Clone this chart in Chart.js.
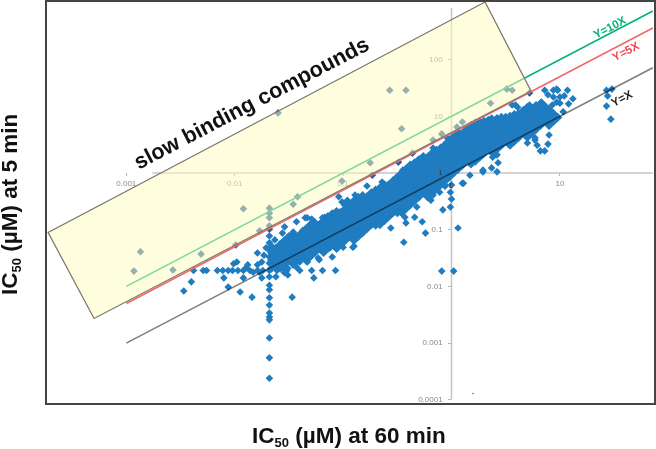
<!DOCTYPE html>
<html>
<head>
<meta charset="utf-8">
<title>IC50 at 5 min vs 60 min</title>
<script src="https://cdn.jsdelivr.net/npm/chart.js@4/dist/chart.umd.min.js"></script>
<style>
  html, body { margin: 0; background: #fff; }
  canvas { display: block; }
</style>
</head>
<body>
<canvas id="grafico" width="656" height="449"></canvas>
<script>
const ticksX = [0.001, 0.01, 0.1, 1, 10];
const ticksY = [100, 10, 1, 0.1, 0.01, 0.001, 0.0001];

// reference lines, IC50 in uM
const lineaX = [0.001, 72];
const lineaY1 = [0.001, 72];
const lineaY5 = [0.005, 360];
const lineaY10 = [0.01, 720];

// the axes cross at 1 and stop short of the frame
const ejeX = [0.00174, 72];
const ejeY = [0.0001, 813];

// shaded "slow binding" box, corners in uM
const cajaX = [2.04, 5.41, 0.000504, 0.00019, 2.04];
const cajaY = [1037, 27.9, 0.00272, 0.0893, 1037];

// main cloud: [log10 x, [log10 y, ...]]
const nube = [
  [-1.66, [-1.68, -1.54, -1.40, -1.30]],
  [-1.62, [-1.61, -1.47, -1.33]],
  [-1.58, [-1.68, -1.54, -1.40, -1.26]],
  [-1.54, [-1.61, -1.47, -1.33, -1.19]],
  [-1.50, [-1.54, -1.40, -1.26, -1.12]],
  [-1.46, [-1.61, -1.47, -1.33, -1.19, -1.07]],
  [-1.42, [-1.54, -1.40, -1.26, -1.12]],
  [-1.38, [-1.47, -1.33, -1.19, -1.05]],
  [-1.34, [-1.54, -1.40, -1.26, -1.12, -0.98]],
  [-1.30, [-1.47, -1.33, -1.19, -1.05, -0.91]],
  [-1.26, [-1.40, -1.26, -1.12, -0.98, -0.88]],
  [-1.22, [-1.33, -1.19, -1.05, -0.91]],
  [-1.18, [-1.40, -1.26, -1.12, -0.98, -0.84]],
  [-1.14, [-1.33, -1.19, -1.05, -0.91, -0.77]],
  [-1.10, [-1.26, -1.12, -0.98, -0.84, -0.72]],
  [-1.06, [-1.33, -1.19, -1.05, -0.91, -0.77, -0.68]],
  [-1.02, [-1.26, -1.12, -0.98, -0.84, -0.70]],
  [-0.98, [-1.19, -1.05, -0.91, -0.77, -0.63, -0.56]],
  [-0.94, [-1.12, -0.98, -0.84, -0.70, -0.56]],
  [-0.90, [-1.19, -1.05, -0.91, -0.77, -0.63, -0.49]],
  [-0.86, [-1.12, -0.98, -0.84, -0.70, -0.56, -0.43]],
  [-0.82, [-1.05, -0.91, -0.77, -0.63, -0.49, -0.40]],
  [-0.78, [-0.98, -0.84, -0.70, -0.56, -0.42]],
  [-0.74, [-0.91, -0.77, -0.63, -0.49, -0.35]],
  [-0.70, [-0.92, -0.84, -0.70, -0.56, -0.42, -0.30]],
  [-0.66, [-0.91, -0.77, -0.63, -0.49, -0.35, -0.26]],
  [-0.62, [-0.84, -0.70, -0.56, -0.42, -0.28]],
  [-0.58, [-0.77, -0.63, -0.49, -0.35, -0.21]],
  [-0.54, [-0.70, -0.56, -0.42, -0.28, -0.14]],
  [-0.50, [-0.70, -0.63, -0.49, -0.35, -0.21, -0.07]],
  [-0.46, [-0.70, -0.56, -0.42, -0.28, -0.14, 0]],
  [-0.42, [-0.63, -0.49, -0.35, -0.21, -0.07, 0.07]],
  [-0.38, [-0.56, -0.42, -0.28, -0.14, 0, 0.14]],
  [-0.34, [-0.49, -0.35, -0.21, -0.07, 0.07, 0.18]],
  [-0.30, [-0.42, -0.28, -0.14, 0, 0.14, 0.23]],
  [-0.26, [-0.35, -0.21, -0.07, 0.07, 0.21, 0.29]],
  [-0.22, [-0.42, -0.28, -0.14, 0, 0.14, 0.28]],
  [-0.18, [-0.35, -0.21, -0.07, 0.07, 0.21, 0.35]],
  [-0.14, [-0.28, -0.14, 0, 0.14, 0.28, 0.40]],
  [-0.10, [-0.21, -0.07, 0.07, 0.21, 0.35, 0.44]],
  [-0.06, [-0.22, -0.14, 0, 0.14, 0.28, 0.42, 0.50]],
  [-0.02, [-0.07, 0.07, 0.21, 0.35, 0.49, 0.58]],
  [0.02, [0, 0.14, 0.28, 0.42, 0.56, 0.64]],
  [0.06, [0.07, 0.21, 0.35, 0.49, 0.63, 0.72]],
  [0.10, [0.14, 0.28, 0.42, 0.56, 0.70]],
  [0.14, [0.21, 0.35, 0.49, 0.63, 0.77]],
  [0.18, [0.16, 0.28, 0.42, 0.56, 0.70, 0.84]],
  [0.22, [0.21, 0.35, 0.49, 0.63, 0.77, 0.88]],
  [0.26, [0.28, 0.42, 0.56, 0.70, 0.84, 0.90]],
  [0.30, [0.35, 0.49, 0.63, 0.77, 0.91]],
  [0.34, [0.42, 0.56, 0.70, 0.84, 0.93]],
  [0.38, [0.35, 0.49, 0.63, 0.77, 0.91]],
  [0.42, [0.42, 0.56, 0.70, 0.84, 0.96]],
  [0.46, [0.49, 0.63, 0.77, 0.91, 0.98]],
  [0.50, [0.56, 0.70, 0.84, 0.98]],
  [0.54, [0.49, 0.63, 0.77, 0.91, 1.0]],
  [0.58, [0.56, 0.70, 0.84, 0.98, 1.03]],
  [0.62, [0.63, 0.77, 0.91, 1.05]],
  [0.66, [0.70, 0.84, 0.98, 1.10]],
  [0.70, [0.63, 0.77, 0.91, 1.05, 1.16]],
  [0.74, [0.70, 0.84, 0.98, 1.12]],
  [0.78, [0.77, 0.91, 1.05, 1.19]],
  [0.82, [0.84, 0.98, 1.12, 1.22]],
  [0.86, [0.91, 1.05, 1.18]],
  [0.90, [0.84, 0.98, 1.12]],
  [0.94, [0.91, 1.05]],
  [0.98, [0.98]]
];

// row of compounds at y = 0.019 uM (log10 x)
const filaX = [-2.38, -2.29, -2.26, -2.16, -2.11, -2.06, -2.02, -1.97, -1.92, -1.86, -1.79, -1.74,
  -1.68, -1.61, -1.52, -1.40, -1.29, -1.19, -1.07];
const filaY = -1.72;

// column of compounds at x = 0.021 uM (log10 y)
const columnaY = [-3.62, -3.26, -2.91, -2.59, -2.54, -2.47, -2.33, -2.20, -2.06, -1.98, -1.83,
  -1.59, -1.48, -1.36, -1.23, -1.11];
const columnaX = -1.68;

// scattered compounds: [log10 x, log10 y]
const sueltos = [
  [-2.47, -2.08], [-2.40, -1.92], [-2.10, -1.85], [-2.06, -2.01], [-1.95, -2.10], [-1.84, -2.19],
  [-1.47, -2.19], [-1.92, -1.85], [-1.98, -1.57], [-2.01, -1.60], [-1.88, -1.62], [-1.90, -1.68],
  [-1.79, -1.41], [-1.79, -1.62], [-1.77, -1.75], [-1.83, -1.75], [-1.75, -1.85], [-1.62, -1.83],
  [-1.54, -1.76], [-1.51, -1.80], [-1.27, -1.85], [-1.10, -1.48], [-1.22, -1.53], [-1.33, -1.57],
  [-1.54, -0.95], [-1.46, -1.04], [-1.33, -0.79], [-1.17, -0.78], [-1.03, -0.69], [-1.43, -0.86],
  [-1.63, -1.18], [-1.56, -1.06], [-1.75, -1.57], [-1.73, -1.45], [-1.71, -1.32], [-1.04, -0.42],
  [-0.96, -0.48], [-0.78, -0.23], [-0.64, -0.16], [-1.35, -0.79], [-1.29, -0.81], [-1.23, -1.50],
  [-1.12, -1.32], [-0.91, -1.31], [-0.94, -1.13], [-0.56, -0.97], [-0.44, -1.22], [-0.42, -0.88],
  [-0.43, -0.78], [-0.34, -0.78], [-0.27, -0.86], [-0.24, -1.06], [0.06, -0.97], [-0.09, -1.73],
  [0.02, -1.73], [-0.08, -0.65], [-0.01, -0.60], [0, -0.46], [-0.01, -0.34], [0, -0.21],
  [0.11, -0.18], [-0.11, -0.34], [-0.12, -0.21], [-0.90, -1.29], [-1.0, -1.31], [-0.19, -0.48],
  [0.43, 0.18], [0.42, 0.02], [0.29, 0.02], [0.38, 0.28], [0.42, 0.32], [0.77, 0.58],
  [0.79, 0.49], [0.82, 0.39], [0.86, 0.39], [0.89, 0.51], [0.90, 0.67],
  [0.86, 1.46], [0.94, 1.46], [0.97, 1.48], [0.98, 1.46], [1.07, 1.46], [0.89, 1.38], [0.94, 1.34],
  [1.0, 1.34], [1.04, 1.36], [1.12, 1.31], [1.08, 1.22], [0.97, 1.25], [1.0, 1.23], [0.93, 1.20],
  [1.03, 1.08], [1.43, 1.46], [1.48, 1.48], [1.44, 1.36], [1.43, 1.18], [1.47, 0.95],
  [-0.04, 0.62], [-0.17, 0.44], [0.01, 0.62], [0.24, 0.88], [0.59, 1.20], [0.61, 1.16],
  // bumps along the upper edge of the cloud
  [-1.19, -0.79], [-1.14, -0.78], [-1.01, -0.51], [-0.89, -0.39], [-0.84, -0.48], [-0.69, -0.34],
  [-0.61, -0.21], [-0.48, -0.12], [-0.45, 0.05], [-0.31, 0.23], [-0.17, 0.35], [0.11, 0.72],
  [0.17, 0.76], [0.26, 0.88], [0.37, 0.97], [0.56, 1.20], [0.72, 1.20], [0.83, 1.25],
  [-1.43, -1.23], [-1.15, -0.95], [-1.28, -0.92], [-1.37, -1.01], [-1.23, -1.06], [-1.03, -0.92],
  [-1.10, -0.86],
  // and along the lower edge
  [-1.06, -1.27], [-0.78, -0.97], [-0.66, -0.79], [-0.45, -0.69], [-0.32, -0.60], [-0.17, -0.39],
  [0.10, -0.18], [0.17, -0.04], [0.29, 0.05], [0.37, 0.09], [0.70, 0.53], [0.77, 0.62],
  [-1.43, -1.66], [-1.51, -1.68], [-1.40, -1.57], [-1.56, -1.68], [-1.63, -1.66]
];

// compounds that sit inside the shaded box
const enCaja = [
  [-1.60, 1.06], [-1.92, -0.63], [-1.46, -0.55], [-1.42, -0.42], [-1.01, -0.14], [-0.57, 1.46],
  [-0.42, 1.46], [-0.46, 0.78], [-0.75, 0.18], [0.51, 1.48], [0.56, 1.46], [0.36, 1.23],
  [0.10, 0.90], [0.05, 0.81], [-0.09, 0.69], [-0.17, 0.58], [-2.87, -1.39], [-2.93, -1.73],
  [-2.57, -1.71], [-2.31, -1.43], [-1.77, -1.02], [-1.99, -1.27], [-0.73, -0.04], [-0.49, 0.19],
  [-0.36, 0.35], [0.72, 1.41], [-1.68, -0.99], [-1.68, -0.93], [-1.68, -0.79], [-1.68, -0.71],
  [-1.68, -0.62]
];

const puntoSuelto = [1.58, 0.000129];

function aPunto(par) {
  return { x: Math.pow(10, par[0]), y: Math.pow(10, par[1]) };
}

function puntosNube() {
  const puntos = [];
  nube.forEach(col => col[1].forEach(ly => puntos.push(aPunto([col[0], ly]))));
  return puntos;
}

function puntosSueltos() {
  const puntos = [];
  filaX.forEach(lx => puntos.push(aPunto([lx, filaY])));
  columnaY.forEach(ly => puntos.push(aPunto([columnaX, ly])));
  sueltos.forEach(p => puntos.push(aPunto(p)));
  return puntos;
}

function linea(xs, ys, color, ancho, orden) {
  return {
    type: 'line',
    data: xs.map((x, i) => ({ x, y: ys[i] })),
    borderColor: color,
    borderWidth: ancho,
    pointRadius: 0,
    tension: 0,
    fill: false,
    clip: false,
    order: orden
  };
}

function textoRotado(ctx, texto, x, y, angulo, fuente, color) {
  ctx.save();
  ctx.translate(x, y);
  ctx.rotate(angulo);
  ctx.font = fuente;
  ctx.fillStyle = color;
  ctx.textAlign = 'center';
  ctx.textBaseline = 'middle';
  ctx.fillText(texto, 0, 0);
  ctx.restore();
}

// "IC50 (uM) at ..." with the 50 set as a subscript, drawn from the baseline start
function tituloEje(ctx, x, y, angulo, resto) {
  ctx.save();
  ctx.translate(x, y);
  ctx.rotate(angulo);
  ctx.fillStyle = '#111';
  ctx.textAlign = 'left';
  ctx.textBaseline = 'alphabetic';
  ctx.font = 'bold 22.5px "Liberation Sans"';
  ctx.fillText('IC', 0, 0);
  let avance = ctx.measureText('IC').width;
  ctx.font = 'bold 13px "Liberation Sans"';
  ctx.fillText('50', avance, 4);
  avance += ctx.measureText('50').width;
  ctx.font = 'bold 22.5px "Liberation Sans"';
  ctx.fillText(resto, avance, 0);
  ctx.restore();
}

const decoracion = {
  id: 'decoracion',
  afterDraw(chart) {
    const ctx = chart.ctx;
    const area = chart.chartArea;
    const escX = chart.scales.x;
    const escY = chart.scales.y;

    ctx.save();
    ctx.strokeStyle = '#444';
    ctx.lineWidth = 2;
    ctx.strokeRect(area.left, area.top, area.right - area.left, area.bottom - area.top);
    ctx.restore();

    // the two "1" tick labels show through the cloud in the original
    textoRotado(ctx, '1', escX.getPixelForValue(1) - 1, escY.getPixelForValue(1) + 13, 0, '8px "Liberation Sans"', '#333');
    textoRotado(ctx, '1', escX.getPixelForValue(1) - 11, escY.getPixelForValue(1), 0, '8px "Liberation Sans"', '#333');

    const inclinacion = -27.5 * Math.PI / 180;
    textoRotado(ctx, 'slow binding compounds', 252, 104, inclinacion, 'bold 21.7px "Liberation Sans"', '#111');
    textoRotado(ctx, 'Y=10X', 610, 28, inclinacion, 'bold 11.5px "Liberation Sans"', '#00b27a');
    textoRotado(ctx, 'Y=5X', 626, 52, inclinacion, 'bold 11.5px "Liberation Sans"', '#f0484e');
    textoRotado(ctx, 'Y=X', 622, 99, inclinacion, 'bold 11.5px "Liberation Sans"', '#222');

    tituloEje(ctx, 252, 443, 0, ' (\u00b5M) at 60 min');
    tituloEje(ctx, 17, 295, -Math.PI / 2, ' (\u00b5M) at 5 min');
  }
};

function formatoEje(lista, etiqueta) {
  return {
    type: 'logarithmic',
    afterBuildTicks: esc => { esc.ticks = lista.map(value => ({ value })); },
    afterFit: esc => {
      esc.paddingTop = 0;
      esc.paddingBottom = 0;
      esc.paddingLeft = 0;
      esc.paddingRight = 0;
    },
    grid: { display: true, drawOnChartArea: false, drawTicks: true, tickLength: 3, color: '#b5b5b5' },
    border: { display: false },
    ticks: {
      autoSkip: false,
      maxRotation: 0,
      padding: 3,
      color: '#8a8a8a',
      font: { family: 'Liberation Sans', size: 8 },
      callback: etiqueta
    }
  };
}

new Chart(document.getElementById('grafico').getContext('2d'), {
  type: 'scatter',
  data: {
    datasets: [
      {
        type: 'line',
        data: cajaX.map((x, i) => ({ x, y: cajaY[i] })),
        borderColor: '#7c7a6c',
        borderWidth: 1.3,
        backgroundColor: 'rgba(254,254,190,0.5)',
        fill: 'shape',
        pointRadius: 0,
        tension: 0,
        clip: false,
        order: 0
      },
      linea(lineaX, lineaY1, 'rgba(0,0,0,0.5)', 1.6, 1),
      linea(lineaX, lineaY5, '#f0686a', 1.6, 2),
      linea(lineaX, lineaY10, '#00b27a', 1.6, 3),
      {
        data: enCaja.map(aPunto),
        pointStyle: 'rectRot',
        pointRadius: 3.8,
        pointBorderWidth: 0,
        backgroundColor: '#2e60a0',
        order: 4
      },
      {
        data: puntosSueltos(),
        pointStyle: 'rectRot',
        pointRadius: 3.8,
        pointBorderWidth: 0,
        backgroundColor: '#1f7cc0',
        order: 5
      },
      {
        data: puntosNube(),
        pointStyle: 'rectRot',
        pointRadius: 4.6,
        pointBorderWidth: 0,
        backgroundColor: '#1f7cc0',
        order: 6
      },
      {
        data: [aPunto([Math.log10(puntoSuelto[0]), Math.log10(puntoSuelto[1])])],
        pointStyle: 'circle',
        pointRadius: 0.8,
        pointBorderWidth: 0,
        backgroundColor: '#666',
        order: 7
      },
      linea(ejeX, [1, 1], '#c4c4c4', 1.5, 8),
      linea([1, 1], ejeY, '#c4c4c4', 1.5, 9)
    ]
  },
  options: {
    responsive: false,
    animation: false,
    events: [],
    layout: { autoPadding: false, padding: { left: 46, top: 1, right: 1, bottom: 45 } },
    plugins: { legend: { display: false }, tooltip: { enabled: false }, title: { display: false } },
    scales: {
      x: Object.assign(formatoEje(ticksX, v => String(v)), { position: { y: 1 }, min: 0.0001816, max: 75.4 }),
      // labels on a crossing y axis ignore ticks.padding, so the gap comes from trailing spaces
      y: Object.assign(formatoEje(ticksY, v => String(v) + '    '), { position: { x: 1 }, min: 0.0000843, max: 1081 })
    }
  },
  plugins: [decoracion]
});
</script>
</body>
</html>
